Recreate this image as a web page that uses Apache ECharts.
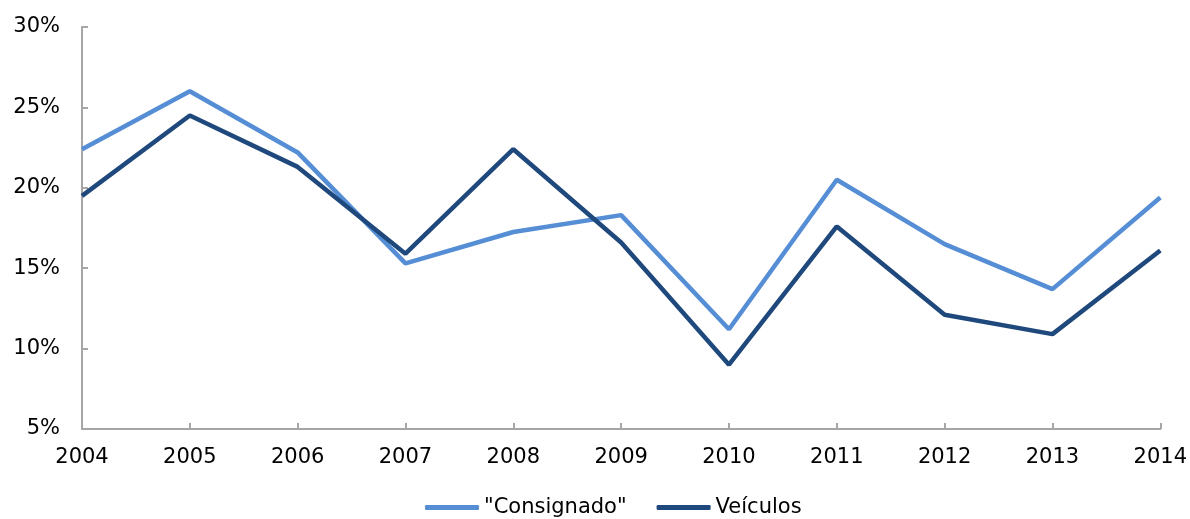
<!DOCTYPE html>
<html>
<head>
<meta charset="utf-8">
<script src="https://cdn.jsdelivr.net/npm/echarts@6/dist/echarts.min.js"></script>
<style>
  html, body { margin: 0; padding: 0; background: #fff; }
  #chart { width: 1190px; height: 519px; }
</style>
</head>
<body>
<div id="chart"></div>
<script>
// anos (eixo x)
const years = ['2004', '2005', '2006', '2007', '2008', '2009', '2010', '2011', '2012', '2013', '2014'];

// valores em %
const consignado = [22.4, 26.0, 22.2, 15.3, 17.25, 18.3, 11.2, 20.5, 16.5, 13.7, 19.4];
const veiculos = [19.5, 24.5, 21.3, 15.9, 22.4, 16.6, 9.0, 17.6, 12.1, 10.9, 16.1];

const seriesNames = ['"Consignado"', 'Veículos'];
const colors = ['#558ED5', '#1F497D'];

const chart = echarts.init(document.getElementById('chart'));

const axisGray = '#A6A6A6';
const font = '"DejaVu Sans"';

chart.setOption({
  animation: false,
  textStyle: { fontFamily: font },
  grid: { left: 82, right: 27, top: 27, bottom: 90 },
  legend: {
    bottom: -4,
    left: 420,
    itemWidth: 54,
    itemHeight: 5,
    itemGap: 30,
    icon: 'roundRect',
    textStyle: { fontSize: 21, color: '#000', fontFamily: font },
    data: seriesNames
  },
  xAxis: {
    type: 'category',
    data: years,
    boundaryGap: false,
    axisLine: { lineStyle: { color: axisGray, width: 2 } },
    axisTick: { inside: true, length: 6, lineStyle: { color: axisGray, width: 2 } },
    axisLabel: { fontSize: 21, color: '#000', margin: 18, fontFamily: font },
    splitLine: { show: false }
  },
  yAxis: {
    type: 'value',
    min: 5,
    max: 30,
    interval: 5,
    axisLine: { show: true, lineStyle: { color: axisGray, width: 2 } },
    axisTick: { show: true, inside: true, length: 6, lineStyle: { color: axisGray, width: 2 } },
    axisLabel: { fontSize: 21, color: '#000', margin: 22, formatter: '{value}%', fontFamily: font },
    splitLine: { show: false }
  },
  series: [
    {
      name: seriesNames[0],
      type: 'line',
      data: consignado,
      showSymbol: false,
      symbol: 'none',
      color: colors[0],
      lineStyle: { width: 4.5, color: colors[0] }
    },
    {
      name: seriesNames[1],
      type: 'line',
      data: veiculos,
      showSymbol: false,
      symbol: 'none',
      color: colors[1],
      lineStyle: { width: 4.5, color: colors[1] }
    }
  ]
});

window.addEventListener('resize', () => chart.resize());
</script>
</body>
</html>
